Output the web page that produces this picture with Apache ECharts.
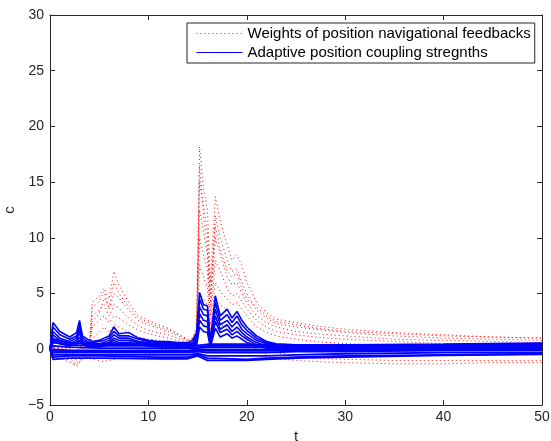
<!DOCTYPE html>
<html><head><meta charset="utf-8">
<script src="https://cdn.jsdelivr.net/npm/echarts@6/dist/echarts.min.js"></script>
<style>html,body{margin:0;padding:0;background:#fff}#c{width:551px;height:441px}</style>
</head><body><div id="c"></div>
<script>
// time grid shared by the main series
const tMain = [0, 0.3, 1, 2, 2.7, 3, 3.3, 4, 4.3, 5, 5.5, 6, 6.5, 7, 8, 9, 10, 11, 12, 13, 14, 14.5, 14.9, 15.2, 15.6, 16, 16.3, 16.8, 17.3, 18, 18.5, 19, 19.5, 20, 21, 22, 23, 25, 27, 30, 35, 40, 45, 50];
// time grid for the quiet coupling-strength lines
const tQuiet = [0, 0.3, 2, 5, 11, 14, 15, 16, 20, 22, 25, 30, 40, 50];

// Weights of position navigational feedbacks (red dotted)
const red1 = [0, 0.2, 0.3, 0.1, -0.3, 0.2, 0.3, 0.5, 4.2, 4.8, 5.5, 4.5, 7.0, 5.8, 4.2, 3.0, 2.6, 2.2, 1.9, 1.4, 0.9, 1.0, 2.0, 18.2, 14.5, 12.5, 6.0, 13.7, 11.5, 9.4, 8.0, 8.5, 7.5, 6.0, 4.2, 3.3, 2.7, 2.4, 2.1, 1.8, 1.5, 1.3, 1.1, 1.0];
const red2 = [0, 0.1, 0.2, 0, -0.2, 0.1, 0.2, 0.3, 3.8, 4.3, 5.2, 3.6, 5.0, 4.6, 3.5, 2.6, 2.2, 1.9, 1.6, 1.2, 0.7, 1.0, 1.8, 15.0, 13.0, 10.5, 4.0, 12.0, 10.0, 8.0, 7.0, 7.2, 6.0, 5.0, 3.5, 2.8, 2.3, 2.0, 1.8, 1.5, 1.2, 1.0, 0.9, 0.8];
const red3 = [0, 0.1, 0, -0.1, -0.5, 0, 0.1, 0.2, 3.0, 3.5, 4.0, 3.0, 4.0, 3.7, 2.8, 2.1, 1.7, 1.5, 1.3, 1.0, 0.5, 0.8, 1.5, 12.5, 10.5, 8.5, 3.0, 10.0, 8.5, 6.5, 5.8, 6.0, 5.0, 4.2, 3.0, 2.4, 2.0, 1.6, 1.4, 1.2, 0.9, 0.8, 0.7, 0.6];
const red4 = [0, 0, -0.2, -0.5, -1.0, -0.6, -0.4, 0, 2.0, 2.6, 3.0, 2.4, 3.0, 2.8, 2.2, 1.7, 1.4, 1.2, 1.0, 0.8, 0.3, 0.5, 1.2, 10.0, 8.5, 7.0, 2.2, 8.0, 7.0, 5.5, 4.8, 5.0, 4.3, 3.6, 2.6, 2.0, 1.6, 1.3, 1.1, 0.9, 0.7, 0.5, 0.4, 0.4];
const red5 = [0, -0.1, -0.4, -0.8, -1.3, -1.0, -0.7, -0.3, 1.0, 1.5, 2.0, 1.5, 2.2, 2.0, 1.5, 1.1, 0.9, 0.8, 0.7, 0.5, 0.1, 0.3, 0.8, 7.5, 6.5, 5.5, 1.5, 6.0, 5.2, 4.5, 4.0, 4.2, 3.6, 3.0, 2.0, 1.5, 1.2, 0.9, 0.7, 0.5, 0.3, 0.2, 0.1, 0.1];
const red6 = [0, -0.2, -0.6, -1.0, -1.5, -1.2, -0.9, -0.6, -0.3, 0, 0.5, 0.3, 0.6, 0.5, 0.2, 0, -0.1, -0.1, 0, 0, -0.2, 0, 0.5, 5.0, 4.5, 4.0, 1.0, 4.5, 4.0, 3.5, 3.0, 3.2, 2.6, 2.0, 1.0, 0.3, -0.3, -0.6, -0.8, -0.9, -1.0, -1.0, -1.0, -1.0];
const red7 = [0, -0.3, -0.8, -1.2, -1.4, -1.1, -0.8, -0.8, -0.9, -1.0, -1.1, -1.0, -0.9, -0.8, -0.6, -0.5, -0.4, -0.3, -0.2, -0.1, -0.2, -0.3, 0, 3.0, 2.5, 2.0, 0.5, 2.5, 2.2, 2.0, 1.6, 1.8, 1.5, 0.8, 0, -0.5, -0.8, -1.0, -1.1, -1.2, -1.3, -1.3, -1.2, -1.2];
const red8 = [0, 0.1, 0.1, -0.2, -0.7, -0.2, 0, 0.2, 2.5, 3.2, 4.6, 3.8, 6.0, 5.0, 3.8, 2.8, 2.4, 2.0, 1.8, 1.3, 0.8, 0.9, 1.6, 16.5, 12.0, 9.0, 5.0, 11.0, 9.0, 7.0, 6.5, 6.8, 5.5, 4.5, 3.8, 3.0, 2.5, 2.2, 1.9, 1.6, 1.4, 1.2, 1.1, 1.0];

// Adaptive position coupling strengths (blue solid), active lines
const blue1 = [0, 2.4, 1.6, 1.1, 1.5, 2.6, 1.2, 0.8, 0.7, 0.8, 1.0, 1.2, 2.0, 1.4, 1.5, 1.0, 0.8, 0.7, 0.7, 0.6, 0.6, 0.8, 1.5, 5.1, 4.0, 3.9, 0.7, 4.8, 3.0, 3.6, 2.8, 3.4, 2.6, 2.0, 1.2, 0.7, 0.5, 0.4, 0.4, 0.4, 0.4, 0.4, 0.4, 0.4];
const blue2 = [0, 2.0, 1.3, 0.9, 1.2, 2.2, 1.0, 0.6, 0.6, 0.7, 0.8, 1.0, 1.6, 1.2, 1.2, 0.9, 0.7, 0.6, 0.6, 0.5, 0.5, 0.6, 1.2, 4.5, 3.6, 3.5, 0.6, 4.2, 2.6, 3.1, 2.4, 3.0, 2.2, 1.7, 1.0, 0.6, 0.4, 0.3, 0.3, 0.3, 0.3, 0.3, 0.3, 0.3];
const blue3 = [0, 1.6, 1.0, 0.7, 1.0, 1.8, 0.8, 0.5, 0.5, 0.5, 0.6, 0.8, 1.3, 1.0, 1.0, 0.7, 0.6, 0.5, 0.5, 0.4, 0.4, 0.5, 1.0, 3.8, 3.1, 3.0, 0.5, 3.6, 2.2, 2.6, 2.0, 2.5, 1.8, 1.4, 0.8, 0.5, 0.3, 0.2, 0.2, 0.2, 0.2, 0.2, 0.2, 0.2];
const blue4 = [0, 1.3, 0.8, 0.5, 0.8, 1.5, 0.6, 0.4, 0.4, 0.4, 0.5, 0.6, 1.0, 0.8, 0.8, 0.6, 0.5, 0.4, 0.4, 0.3, 0.3, 0.4, 0.8, 3.2, 2.6, 2.5, 0.4, 3.0, 1.8, 2.2, 1.6, 2.0, 1.5, 1.1, 0.6, 0.3, 0.2, 0.1, 0.1, 0.1, 0.1, 0.1, 0.1, 0.1];
const blue5 = [0, 1.0, 0.6, 0.4, 0.6, 1.1, 0.5, 0.3, 0.3, 0.3, 0.4, 0.5, 0.8, 0.6, 0.6, 0.5, 0.4, 0.3, 0.3, 0.2, 0.2, 0.3, 0.6, 2.6, 2.1, 2.0, 0.3, 2.5, 1.5, 1.8, 1.3, 1.6, 1.2, 0.9, 0.4, 0.2, 0.1, 0, 0, 0, 0, 0, 0, 0];
const blue6 = [0, 0.8, 0.5, 0.3, 0.4, 0.8, 0.4, 0.2, 0.2, 0.2, 0.3, 0.4, 0.6, 0.5, 0.5, 0.4, 0.3, 0.2, 0.2, 0.2, 0.1, 0.2, 0.4, 2.0, 1.6, 1.5, 0.2, 1.9, 1.1, 1.4, 1.0, 1.2, 0.9, 0.6, 0.3, 0.1, 0, -0.1, -0.1, -0.1, -0.1, -0.1, -0.1, -0.1];

// quiet blue lines near zero
const quiet1 = [0, 0.6, 0.4, 0.3, 0.3, 0.2, 0.2, 0.3, 0.3, 0.3, 0.3, 0.3, 0.4, 0.5];
const quiet2 = [0, 0.3, 0.2, 0.1, 0.1, 0.1, 0.1, 0.2, 0.2, 0.2, 0.2, 0.2, 0.3, 0.3];
const quiet3 = [0, 0, -0.1, -0.1, -0.1, -0.1, 0, 0, 0, 0, 0, 0, 0.1, 0.1];
const quiet4 = [0, -0.3, -0.3, -0.3, -0.3, -0.3, -0.2, -0.3, -0.3, -0.3, -0.2, -0.2, -0.1, -0.1];
const quiet5 = [0, -0.5, -0.5, -0.5, -0.5, -0.5, -0.4, -0.6, -0.6, -0.6, -0.5, -0.4, -0.3, -0.3];
const quiet6 = [0, -0.7, -0.6, -0.6, -0.7, -0.7, -0.5, -0.8, -0.9, -0.8, -0.7, -0.6, -0.5, -0.4];
const quiet7 = [0, 0.9, 0.6, 0.45, 0.45, 0.4, 0.35, 0.45, 0.45, 0.4, 0.4, 0.4, 0.45, 0.55];
const quiet8 = [0, -0.15, -0.2, -0.2, -0.2, -0.2, -0.1, -0.15, -0.15, -0.15, -0.1, -0.1, 0, 0];
const quiet9 = [0, -0.9, -0.8, -0.8, -0.85, -0.85, -0.6, -1.0, -1.0, -0.9, -0.8, -0.7, -0.55, -0.45];

const nameRed = 'Weights of position navigational feedbacks';
const nameBlue = 'Adaptive position coupling stregnths';

const FONT = '"Liberation Sans", Arial, Helvetica, sans-serif';
const TXT = '#262626';

function pairs(ts, vs) { return ts.map((t, i) => [t, vs[i]]); }

const series = [];
[red1, red2, red3, red4, red5, red6, red7, red8].forEach(v => series.push({
  type: 'line', name: nameRed, data: pairs(tMain, v), symbol: 'none',
  lineStyle: { color: '#ff0000', width: 1, type: [1, 3] }, itemStyle: { color: '#ff0000' }
}));
[quiet1, quiet2, quiet3, quiet4, quiet5, quiet6, quiet7, quiet8, quiet9].forEach(v => series.push({
  type: 'line', name: nameBlue, data: pairs(tQuiet, v), symbol: 'none',
  lineStyle: { color: '#0000ff', width: 1.8 }, itemStyle: { color: '#0000ff' }
}));
[blue1, blue2, blue3, blue4, blue5, blue6].forEach(v => series.push({
  type: 'line', name: nameBlue, data: pairs(tMain, v), symbol: 'none',
  lineStyle: { color: '#0000ff', width: 1.6 }, itemStyle: { color: '#0000ff' }
}));

const minus = v => String(v).replace('-', '\u2212');
const axisCommon = {
  axisLine: { show: true, onZero: false, lineStyle: { color: TXT, width: 1 } },
  axisTick: { show: true, inside: true, length: 5, lineStyle: { color: TXT } },
  splitLine: { show: false }
};

const chart = echarts.init(document.getElementById('c'), null, { renderer: 'canvas' });
chart.setOption({
  animation: false,
  backgroundColor: '#fff',
  textStyle: { fontFamily: FONT },
  grid: { left: 50, right: 9, top: 15, bottom: 36, containLabel: false, outerBoundsMode: 'none' },
  legend: {
    data: [nameRed, nameBlue],
    orient: 'vertical', left: 187, top: 23,
    backgroundColor: '#fff', borderColor: TXT, borderWidth: 1,
    padding: [1, 4, 1, 9], itemWidth: 46, itemHeight: 10, itemGap: 0,
    itemStyle: { opacity: 0, borderWidth: 0 },
    lineStyle: { width: 1, color: 'inherit', type: 'inherit' },
    textStyle: { fontFamily: FONT, fontSize: 15, lineHeight: 19, color: '#000' }
  },
  xAxis: [
    Object.assign({ type: 'value', min: 0, max: 50, interval: 10, position: 'bottom',
      name: 't', nameLocation: 'middle', nameGap: 16,
      nameTextStyle: { fontFamily: FONT, fontSize: 15, color: TXT },
      axisLabel: { fontFamily: FONT, fontSize: 14, color: TXT, margin: 5, formatter: minus } }, axisCommon),
    Object.assign({ type: 'value', min: 0, max: 50, interval: 10, position: 'top',
      axisLabel: { show: false } }, axisCommon)
  ],
  yAxis: [
    Object.assign({ type: 'value', min: -5, max: 30, interval: 5, position: 'left',
      name: 'c', nameLocation: 'middle', nameGap: 29,
      nameTextStyle: { fontFamily: FONT, fontSize: 15, color: TXT },
      axisLabel: { fontFamily: FONT, fontSize: 14, color: TXT, margin: 6, formatter: minus } }, axisCommon),
    Object.assign({ type: 'value', min: -5, max: 30, interval: 5, position: 'right',
      axisLabel: { show: false } }, axisCommon)
  ],
  series: series
});
</script>
</body></html>
